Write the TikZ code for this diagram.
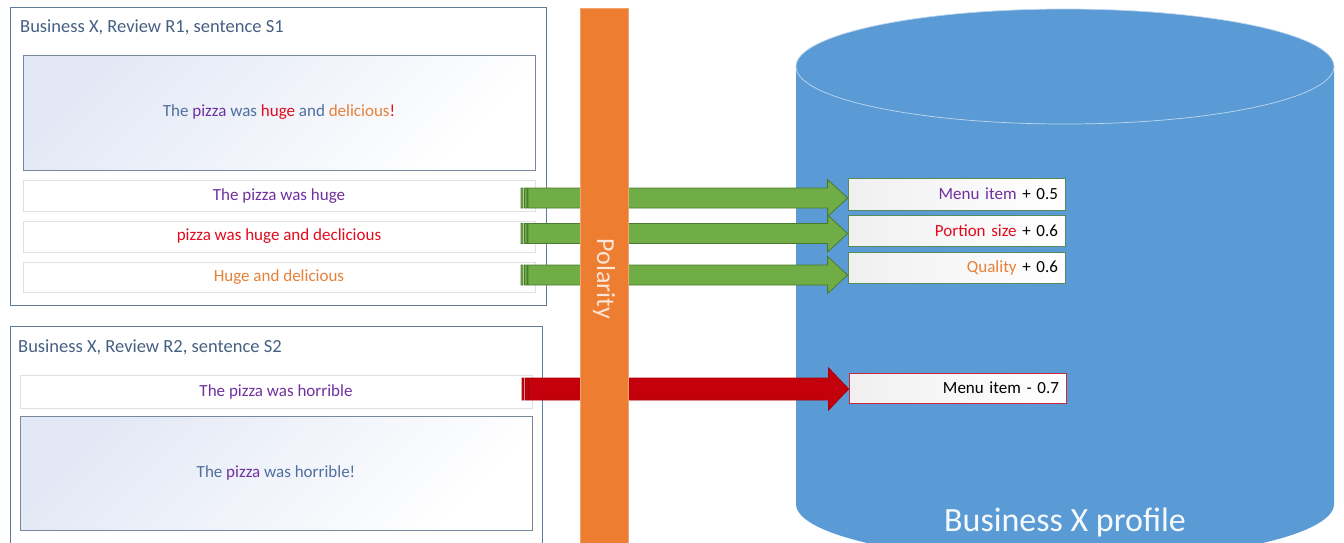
\documentclass[tikz,border=0pt]{standalone}
\usepackage{fontspec}
\setmainfont{Carlito}
\usetikzlibrary{calc}
\definecolor{cylblue}{RGB}{91,155,213}
\definecolor{cylline}{RGB}{190,215,238}
\definecolor{polorange}{RGB}{237,125,49}
\definecolor{poltext}{RGB}{252,228,214}
\definecolor{agreen}{RGB}{112,173,71}
\definecolor{agreend}{RGB}{74,122,44}
\definecolor{ared}{RGB}{196,0,12}
\definecolor{aredd}{RGB}{170,0,10}
\definecolor{tpurple}{RGB}{112,48,160}
\definecolor{tred}{RGB}{226,10,30}
\definecolor{torange}{RGB}{232,128,56}
\definecolor{tgray}{RGB}{70,96,132}
\definecolor{tblue}{RGB}{80,110,160}
\definecolor{frame}{RGB}{96,124,152}
\definecolor{bigframe}{RGB}{120,136,156}
\definecolor{boxblue}{RGB}{226,232,245}
\definecolor{gframe}{RGB}{86,140,90}
\definecolor{rframe}{RGB}{200,40,60}
\newcommand\fatarrow[6]{% fill, draw, tail coordinate, target node, shaft half, head half
  \path let \p1=(#3), \p2=(#4.west) in
    [fill=#2] ({\x1-7pt},{\y1+#5pt}) rectangle ({\x1-5pt},{\y1-#5pt})
    [fill=#2] ({\x1-3.5pt},{\y1+#5pt}) rectangle ({\x1-1pt},{\y1-#5pt})
    [fill=#1, draw=#2, line width=0.8pt]
    (\x1,{\y1+#5pt}) -- ({\x2-20pt},{\y1+#5pt}) -- ({\x2-20pt},{\y1+#6pt})
    -- (\x2,\y1) -- ({\x2-20pt},{\y1-#6pt}) -- ({\x2-20pt},{\y1-#5pt})
    -- (\x1,{\y1-#5pt}) -- cycle;}
\begin{document}
\begin{tikzpicture}[x=1pt,y=-1pt,
  body/.style={font=\fontsize{17}{20}\selectfont},
  outerbox/.style={draw=frame, line width=0.8pt, fill=white, inner sep=0pt},
  titletext/.style={font=\fontsize{18.5}{22}\selectfont, text=tgray, anchor=west, inner sep=0pt},
  bigbox/.style={body, draw=bigframe, line width=0.8pt, top color=boxblue, bottom color=white, shading angle=45, inner sep=0pt, minimum width=512pt},
  smallbox/.style={body, draw=black!12, line width=0.6pt, fill=white, inner sep=0pt, minimum width=512pt},
  resbox/.style={body, line width=0.8pt, left color=black!6, right color=white, inner xsep=7pt, inner ysep=0pt, text width=203pt, align=right},
]
\useasboundingbox (0,0) rectangle (1344,542);

% database cylinder
\fill[cylblue] (796,66.5) -- (796,504)
  arc[start angle=180, end angle=360, x radius=269pt, y radius=57.5pt]
  -- (1334,66.5)
  arc[start angle=0, end angle=180, x radius=269pt, y radius=57.5pt] -- cycle;
\draw[cylline, line width=0.7pt] (1065,66.5) ellipse[x radius=269pt, y radius=57.5pt];
\node[font=\fontsize{34}{40}\selectfont, text=white!95!cylblue, anchor=base, inner sep=0pt] (prof) at (1065,531) {Business X profile};

% review 1
\node[outerbox, minimum width=536pt, minimum height=298pt] (r1) at (278,156) {};
\node[titletext] (t1) at (20,27) {Business X, Review R1, sentence S1};
\node[bigbox, minimum height=115pt] (s1) at (279,112.5)
  {\textcolor{tblue}{The} \textcolor{tpurple}{pizza} \textcolor{tblue}{was} \textcolor{tred}{huge} \textcolor{tblue}{and} \textcolor{torange}{delicious}\textcolor{tred}{!}};
\node[smallbox, minimum height=31pt, text=tpurple] (p1) at (279,196) {The pizza was huge};
\node[smallbox, minimum height=31pt, text=tred] (p2) at (279,236.5) {pizza was huge and declicious};
\node[smallbox, minimum height=30pt, text=torange] (p3) at (279,277) {Huge and delicious};

% review 2
\node[outerbox, minimum width=532pt, minimum height=222pt] (r2) at (276,437) {};
\node[titletext] (t2) at (18,347) {Business X, Review R2, sentence S2};
\node[smallbox, minimum height=33pt, text=tpurple] (p4) at (276,391.5) {The pizza was horrible};
\node[bigbox, minimum height=114pt] (s2) at (276,473)
  {\textcolor{tblue}{The} \textcolor{tpurple}{pizza} \textcolor{tblue}{was horrible!}};

% result boxes
\node[resbox, draw=gframe, minimum height=32pt] (m1) at (956.5,194) {\textcolor{tpurple}{Menu item} + 0.5};
\node[resbox, draw=gframe, minimum height=31pt] (m2) at (956.5,230.5) {\textcolor{tred}{Portion size} + 0.6};
\node[resbox, draw=gframe, minimum height=31pt] (m3) at (956.5,267.5) {\textcolor{torange}{Quality} + 0.6};
\node[resbox, draw=rframe, minimum height=30pt] (m4) at (957.5,388) {Menu item - 0.7};

% arrow tails
\coordinate (a1) at (528,198);
\coordinate (a2) at (528,233.5);
\coordinate (a3) at (528,275);
\coordinate (a4) at (529,389);
\fatarrow{agreen}{agreend}{a1}{m1}{10}{18.5}
\fatarrow{agreen}{agreend}{a2}{m2}{10}{18.5}
\fatarrow{agreen}{agreend}{a3}{m3}{10}{18.5}
\fatarrow{ared}{aredd}{a4}{m4}{11}{21}

% polarity bar
\node[fill=polorange, draw=polorange!70!white, line width=0.5pt, rotate=-90, minimum width=542pt, minimum height=48pt, inner sep=0pt,
  font=\fontsize{26}{30}\selectfont, text=poltext] (pol) at (604,279) {Polarity};
\end{tikzpicture}
\end{document}
